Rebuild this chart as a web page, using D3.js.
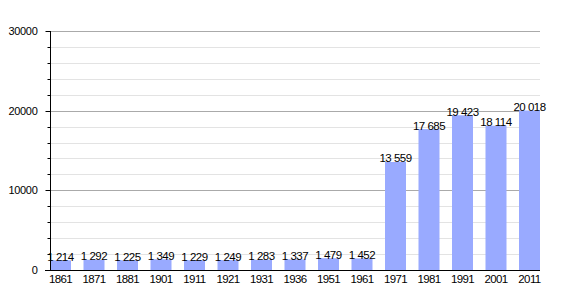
<!DOCTYPE html>
<html>
<head>
<meta charset="utf-8">
<script src="https://cdn.jsdelivr.net/npm/d3@7"></script>
<style>
  body { margin: 0; background: #fff; }
  text { font-family: "Liberation Sans", Arial, sans-serif; fill: #000; }
</style>
</head>
<body>
<svg id="chart" width="570" height="300"></svg>
<script>
var years = ['1861', '1871', '1881', '1901', '1911', '1921', '1931', '1936',
  '1951', '1961', '1971', '1981', '1991', '2001', '2011'];
var population = [1214, 1292, 1225, 1349, 1229, 1249, 1283, 1337,
  1479, 1452, 13559, 17685, 19423, 18114, 20018];
var majorTicks = [0, 10000, 20000, 30000];
var minorTicks = d3.range(0, 30001, 2000);

var svg = d3.select('#chart');
var plotLeft = 50, plotRight = 540, plotTop = 31, plotBottom = 270;

var x = d3.scaleBand()
  .domain(years)
  .range([plotLeft, plotRight])
  .paddingInner(0.373)
  .paddingOuter(0);

var y = d3.scaleLinear()
  .domain([0, 30000])
  .range([plotBottom, plotTop]);

// space as thousands separator
var fmt = function(v) {
  return d3.format(',')(v).replace(/,/g, '\u00a0');
};

// grid
svg.append('g').selectAll('line')
  .data(minorTicks.filter(function(d) { return d % 10000 !== 0; }))
  .enter().append('line')
  .attr('x1', plotLeft).attr('x2', plotRight)
  .attr('y1', function(d) { return Math.round(y(d)) + 0.5; })
  .attr('y2', function(d) { return Math.round(y(d)) + 0.5; })
  .attr('stroke', '#e3e3e3');

svg.append('g').selectAll('line')
  .data(majorTicks.filter(function(d) { return d > 0; }))
  .enter().append('line')
  .attr('x1', plotLeft).attr('x2', plotRight)
  .attr('y1', function(d) { return Math.round(y(d)) + 0.5; })
  .attr('y2', function(d) { return Math.round(y(d)) + 0.5; })
  .attr('stroke', '#aaaaaa');

// bars
svg.append('g').selectAll('rect')
  .data(population)
  .enter().append('rect')
  .attr('x', function(d, i) { return x(years[i]); })
  .attr('y', function(d) { return y(d); })
  .attr('width', x.bandwidth())
  .attr('height', function(d) { return plotBottom - y(d); })
  .attr('fill', '#99aaff');

// value labels
svg.append('g').selectAll('text')
  .data(population)
  .enter().append('text')
  .attr('x', function(d, i) { return x(years[i]) + x.bandwidth() / 2; })
  .attr('y', function(d) { return y(d) + 0.5; })
  .attr('text-anchor', 'middle')
  .attr('font-size', 11.5)
  .attr('letter-spacing', -0.5)
  .text(fmt);

// y axis
var yAxis = svg.append('g')
  .attr('transform', 'translate(' + (plotLeft + 0.5) + ',0)');
yAxis.append('line')
  .attr('y1', plotTop).attr('y2', plotBottom)
  .attr('stroke', '#000');
yAxis.selectAll('line.minor')
  .data(minorTicks)
  .enter().append('line')
  .attr('class', 'minor')
  .attr('x1', -3).attr('x2', 0)
  .attr('y1', function(d) { return Math.round(y(d)) + 0.5; })
  .attr('y2', function(d) { return Math.round(y(d)) + 0.5; })
  .attr('stroke', '#000');
yAxis.selectAll('line.major')
  .data(majorTicks)
  .enter().append('line')
  .attr('class', 'major')
  .attr('x1', -5).attr('x2', 0)
  .attr('y1', function(d) { return Math.round(y(d)) + 0.5; })
  .attr('y2', function(d) { return Math.round(y(d)) + 0.5; })
  .attr('stroke', '#000');
yAxis.selectAll('text')
  .data(majorTicks)
  .enter().append('text')
  .attr('x', -13)
  .attr('y', function(d) { return y(d) + 4; })
  .attr('text-anchor', 'end')
  .attr('font-size', 11)
  .attr('letter-spacing', -0.3)
  .text(function(d) { return d; });

// x axis baseline and labels
svg.append('line')
  .attr('x1', plotLeft - 5).attr('x2', plotRight)
  .attr('y1', plotBottom + 0.5).attr('y2', plotBottom + 0.5)
  .attr('stroke', '#000');

svg.append('g').selectAll('text')
  .data(years)
  .enter().append('text')
  .attr('x', function(d) { return x(d) + x.bandwidth() / 2; })
  .attr('y', plotBottom + 12.5)
  .attr('text-anchor', 'middle')
  .attr('font-size', 11.5)
  .attr('letter-spacing', -0.6)
  .text(function(d) { return d; });
</script>
</body>
</html>
